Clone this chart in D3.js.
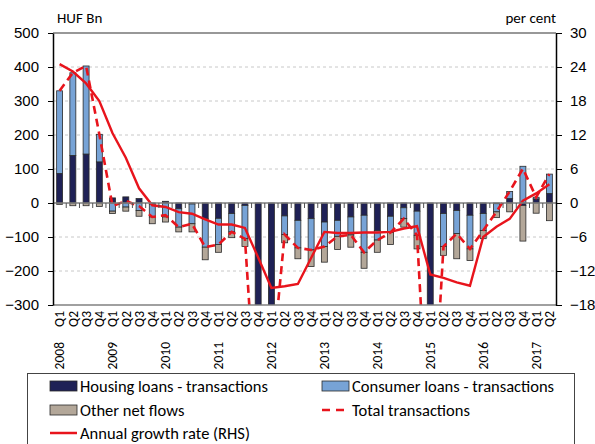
<!DOCTYPE html>
<html>
<head>
<meta charset="utf-8">
<script src="https://cdn.jsdelivr.net/npm/d3@7"></script>
<style>
  body { margin: 0; background: #fff; }
  svg { font-family: Carlito, Lato, "Liberation Sans", sans-serif; }
  .grid line { stroke: #c8c8c8; stroke-dasharray: 3,3; }
  .axis path, .axis line { stroke: #000; }
  .axis text { font-size: 15px; fill: #000; }
  .xlab text { font-size: 13.5px; fill: #000; }
  .legend text { font-size: 16.5px; fill: #000; }
</style>
</head>
<body>
<svg id="chart" width="595" height="444"></svg>
<script>
// categories (quarters)
const categories = [
  "2008 Q1","2008 Q2","2008 Q3","2008 Q4",
  "2009 Q1","2009 Q2","2009 Q3","2009 Q4",
  "2010 Q1","2010 Q2","2010 Q3","2010 Q4",
  "2011 Q1","2011 Q2","2011 Q3","2011 Q4",
  "2012 Q1","2012 Q2","2012 Q3","2012 Q4",
  "2013 Q1","2013 Q2","2013 Q3","2013 Q4",
  "2014 Q1","2014 Q2","2014 Q3","2014 Q4",
  "2015 Q1","2015 Q2","2015 Q3","2015 Q4",
  "2016 Q1","2016 Q2","2016 Q3","2016 Q4",
  "2017 Q1","2017 Q2"
];

// HUF Bn
const housing = [87, 140, 144, 121, 15, 18, 13, -3, 5, -17, -3, -46, -45, -31, -7, -680,
  -500, -38, -51, -46, -56, -51, -41, -36, -81, -39, -14, -24, -780, -31, -22, -36,
  -31, -2, 13, -7, 12, 28];
const consumer = [243, 243, 259, 81, -24, -12, -22, -38, -41, -54, -58, -84, -77, -54, -98, -20,
  0, -55, -81, -92, -72, -47, -53, -109, -28, -48, -32, -71, -20, -97, -68, -99,
  -50, -24, 21, 108, 5, 57];
const otherFlows = [-4, -8, -8, -10, -7, -12, -17, -20, -15, -14, -24, -37, -23, -17, -23, 0,
  0, -24, -32, -49, -46, -39, -36, -47, -36, -35, -25, -40, 0, -26, -74, -34,
  -24, -17, -26, -105, -30, -52];
// per cent (RHS)
const growth = [24.5, 23.2, 21.1, 18.0, 12.3, 8.0, 2.6, -0.4, -0.7, -1.6, -1.9, -2.9, -3.8, -3.8, -4.4, -9.6,
  -15.0, -14.7, -14.3, -9.7, -5.1, -5.3, -5.3, -5.2, -5.2, -5.1, -4.5, -4.1, -12.6, -13.2, -14.0, -14.6,
  -6.0, -4.2, -2.8, 0.4, 1.7, 3.3];

const leftTicks = [-300, -200, -100, 0, 100, 200, 300, 400, 500];
const rightTicks = [-18, -12, -6, 0, 6, 12, 18, 24, 30];

const margin = { left: 53, right: 39, top: 33, bottom: 139 };
const W = 595, H = 444;
const width = W - margin.left - margin.right;
const height = H - margin.top - margin.bottom;

const svg = d3.select("#chart");
const g = svg.append("g").attr("transform", `translate(${margin.left},${margin.top})`);

const x = d3.scaleBand().domain(categories).range([0, width])
  .paddingInner(0.55).paddingOuter(0.275);
const y = d3.scaleLinear().domain([-300, 500]).range([height, 0]);
const y2 = d3.scaleLinear().domain([-18, 30]).range([height, 0]);

// table for stacking
const rows = categories.map((c, i) => ({ cat: c, housing: housing[i], consumer: consumer[i], other: otherFlows[i] }));
const keys = ["housing", "consumer", "other"];
const colors = { housing: "#1f2156", consumer: "#77a3d6", other: "#b3a799" };
const series = d3.stack().keys(keys).offset(d3.stackOffsetDiverging)(rows);

g.append("defs").append("clipPath").attr("id", "clip")
  .append("rect").attr("width", width).attr("height", height);

// grid
g.append("g").attr("class", "grid")
  .selectAll("line").data(leftTicks.filter(d => d !== 0 && d !== 500 && d !== -300))
  .join("line")
  .attr("x1", 0).attr("x2", width)
  .attr("y1", d => y(d)).attr("y2", d => y(d));

// bars
const plot = g.append("g").attr("clip-path", "url(#clip)");
plot.selectAll("g.series").data(series).join("g")
  .attr("class", "series")
  .attr("fill", d => colors[d.key])
  .selectAll("rect").data(d => d).join("rect")
  .attr("x", d => x(d.data.cat))
  .attr("width", x.bandwidth())
  .attr("y", d => y(Math.max(d[0], d[1])))
  .attr("height", d => Math.abs(y(d[0]) - y(d[1])))
  .attr("stroke", "#2a2a2a")
  .attr("stroke-width", 0.8);

// zero line
g.append("line").attr("x1", 0).attr("x2", width)
  .attr("y1", y(0)).attr("y2", y(0))
  .attr("stroke", "#7f7f7f").attr("stroke-width", 1.5);

// category ticks on zero line
const step = x.step();
g.append("g").selectAll("line").data(categories.slice(1)).join("line")
  .attr("x1", d => x(d) - (step - x.bandwidth()) / 2)
  .attr("x2", d => x(d) - (step - x.bandwidth()) / 2)
  .attr("y1", y(0)).attr("y2", y(0) + 5)
  .attr("stroke", "#555").attr("stroke-width", 1);

// lines
const totals = categories.map((c, i) => housing[i] + consumer[i]);
const lineTotal = d3.line().x((d, i) => x(categories[i]) + x.bandwidth() / 2).y(d => y(d));
const lineGrowth = d3.line().x((d, i) => x(categories[i]) + x.bandwidth() / 2).y(d => y2(d));

plot.append("path").datum(totals)
  .attr("d", lineTotal)
  .attr("fill", "none").attr("stroke", "#e8141c")
  .attr("stroke-width", 2.6).attr("stroke-dasharray", "8,5");

plot.append("path").datum(growth)
  .attr("d", lineGrowth)
  .attr("fill", "none").attr("stroke", "#e8141c")
  .attr("stroke-width", 2.4);

// frame top and bottom
g.append("line").attr("x1", 0).attr("x2", width).attr("y1", 0).attr("y2", 0)
  .attr("stroke", "#333").attr("stroke-width", 1.2);
g.append("line").attr("x1", 0).attr("x2", width).attr("y1", height).attr("y2", height)
  .attr("stroke", "#808080").attr("stroke-width", 1.5);

// y axes
const axL = g.append("g").attr("class", "axis")
  .call(d3.axisLeft(y).tickValues(leftTicks).tickSize(5).tickPadding(9).tickSizeOuter(0));
const axR = g.append("g").attr("class", "axis")
  .attr("transform", `translate(${width},0)`)
  .call(d3.axisRight(y2).tickValues(rightTicks).tickSize(6).tickPadding(8).tickSizeOuter(0));
axL.select(".domain").attr("stroke-width", 1.5);
axR.select(".domain").attr("stroke-width", 1.5);

// units
g.append("text").attr("x", 4).attr("y", -10).attr("font-size", 15).text("HUF Bn");
g.append("text").attr("x", width).attr("y", -10).attr("font-size", 15)
  .attr("text-anchor", "end").text("per cent");

// x labels
const xl = g.append("g").attr("class", "xlab").attr("transform", `translate(0,${height})`);
xl.selectAll("text.q").data(categories).join("text")
  .attr("class", "q")
  .attr("transform", d => `translate(${x(d) + x.bandwidth() / 2},0) rotate(-90)`)
  .attr("x", -6).attr("dy", "0.35em")
  .attr("text-anchor", "end")
  .text(d => d.split(" ")[1]);
xl.selectAll("text.yr").data(categories.filter(d => d.endsWith("Q1"))).join("text")
  .attr("class", "yr")
  .attr("transform", d => `translate(${x(d) + x.bandwidth() / 2},0) rotate(-90)`)
  .attr("x", -37).attr("dy", "0.35em")
  .attr("text-anchor", "end")
  .text(d => d.split(" ")[0]);

// legend
const lg = svg.append("g").attr("class", "legend");
lg.append("rect").attr("x", 27.5).attr("y", 373.5).attr("width", 547).attr("height", 90)
  .attr("fill", "#fff").attr("stroke", "#444");
const legendItems = [
  { label: "Housing loans - transactions", type: "rect", color: colors.housing, x: 50, y: 386 },
  { label: "Consumer loans - transactions", type: "rect", color: colors.consumer, x: 322, y: 386 },
  { label: "Other net flows", type: "rect", color: colors.other, x: 50, y: 410 },
  { label: "Total transactions", type: "dash", color: "#e8141c", x: 322, y: 410 },
  { label: "Annual growth rate (RHS)", type: "line", color: "#e8141c", x: 50, y: 433 }
];
legendItems.forEach(it => {
  if (it.type === "rect") {
    lg.append("rect").attr("x", it.x).attr("y", it.y - 5).attr("width", 27).attr("height", 10)
      .attr("fill", it.color).attr("stroke", "#2a2a2a").attr("stroke-width", 0.8);
  } else {
    lg.append("line").attr("x1", it.x).attr("x2", it.x + 27).attr("y1", it.y).attr("y2", it.y)
      .attr("stroke", it.color).attr("stroke-width", 2.5)
      .attr("stroke-dasharray", it.type === "dash" ? "8,6" : null);
  }
  lg.append("text").attr("x", it.x + 30).attr("y", it.y).attr("dy", "0.35em").text(it.label);
});
</script>
</body>
</html>
